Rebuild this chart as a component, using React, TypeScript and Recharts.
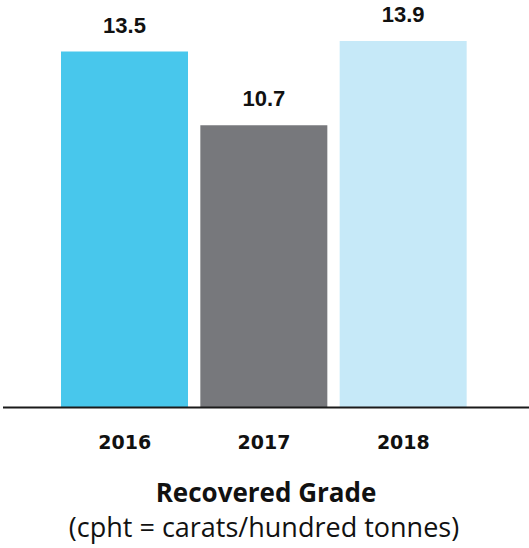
import React from "react";
import { BarChart, Bar, XAxis, YAxis, Cell, LabelList } from "recharts";

const years = ["2016", "2017", "2018"];
const grade = [13.5, 10.7, 13.9];
const barColors = ["#48C7EC", "#77787C", "#C6E9F8"];

const data = years.map((year, i) => ({ year, grade: grade[i] }));

const W = 529;
const H = 548;

export default function App() {
  return (
    <div style={{ position: "absolute", left: 0, top: 0, width: W, height: H, background: "#fff" }}>
      <BarChart
        width={W}
        height={H}
        data={data}
        margin={{ top: 41, right: 0, bottom: 110.5, left: 3 }}
      >
        <XAxis
          dataKey="year"
          height={30}
          padding={{ left: 52, right: 56 }}
          axisLine={{ stroke: "#1a1a1a", strokeWidth: 2 }}
          tickLine={false}
          tickSize={0}
          tickMargin={28}
          tick={{
            fill: "#111",
            fontSize: 19,
            fontWeight: 700,
            fontFamily: "DejaVu Sans",
          }}
        />
        <YAxis hide domain={[0, 13.9]} />
        <Bar dataKey="grade" barSize={127} isAnimationActive={false}>
          {data.map((d, i) => (
            <Cell key={d.year} fill={barColors[i]} />
          ))}
          <LabelList
            dataKey="grade"
            position="top"
            offset={19}
            formatter={(v: number) => v.toFixed(1)}
            style={{
              fill: "#111",
              fontSize: 22,
              fontWeight: 700,
              fontFamily: "Liberation Sans",
            }}
          />
        </Bar>
      </BarChart>
      <svg
        width={W}
        height={H}
        style={{ position: "absolute", left: 0, top: 0, pointerEvents: "none" }}
      >
        <text
          x={266}
          y={502}
          textAnchor="middle"
          fontFamily="Open Sans"
          fontWeight={700}
          fontSize={26}
          fill="#111"
        >
          Recovered Grade
        </text>
        <text
          x={264}
          y={537}
          textAnchor="middle"
          fontFamily="Open Sans"
          fontSize={27}
          fill="#111"
        >
          (cpht = carats/hundred tonnes)
        </text>
      </svg>
    </div>
  );
}
